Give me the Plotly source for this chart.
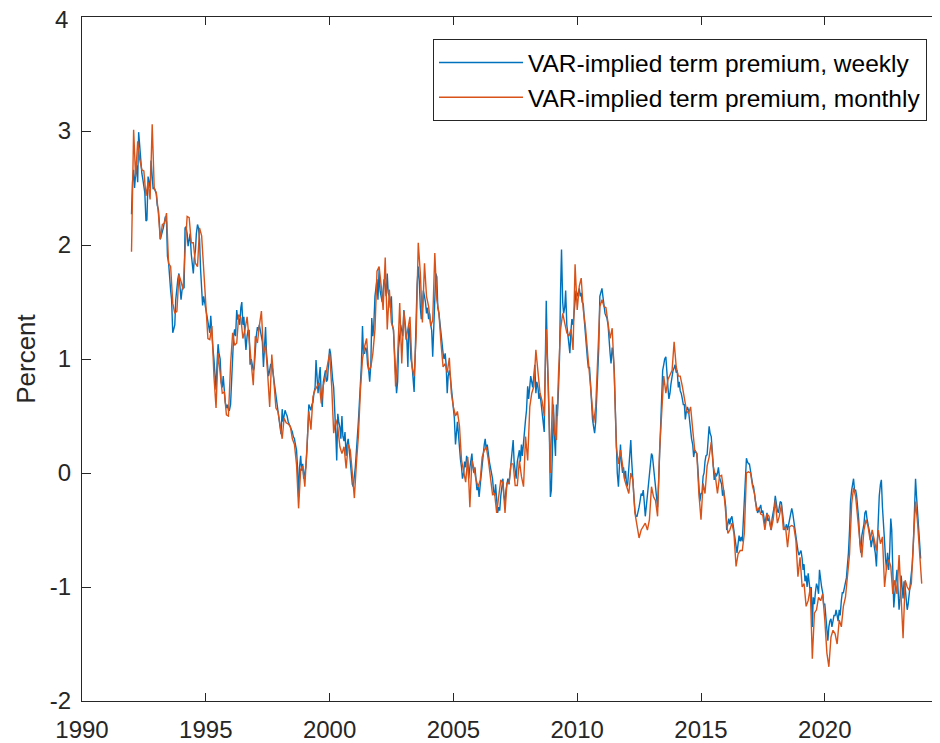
import pandas as pd
import plotly.graph_objects as go

# Monthly VAR-implied term premium (percent), Jan 1992 - Dec 2023, one row per year
monthly_by_year = {
    1992: [1.94, 3.01, 2.60, 2.91, 2.75, 2.66, 2.65, 2.43, 2.55, 2.40, 3.06, 2.50],
    1993: [2.46, 2.28, 2.05, 2.18, 2.19, 2.28, 1.84, 1.81, 1.49, 1.40, 1.42, 1.74],
    1994: [1.68, 1.61, 1.95, 2.25, 2.24, 2.02, 2.02, 1.84, 1.81, 2.15, 2.08, 1.76],
    1995: [1.49, 1.18, 1.17, 1.29, 0.85, 0.57, 1.05, 0.85, 0.70, 0.71, 0.51, 0.50],
    1996: [0.95, 1.23, 1.12, 1.14, 1.39, 1.36, 1.18, 1.26, 1.37, 1.17, 0.93, 0.77],
    1997: [1.20, 1.14, 1.29, 1.42, 1.05, 1.12, 0.88, 0.58, 1.04, 0.80, 0.57, 0.54],
    1998: [0.41, 0.30, 0.48, 0.44, 0.43, 0.41, 0.30, 0.25, 0.07, -0.31, 0.03, 0.06],
    1999: [-0.12, 0.22, 0.54, 0.38, 0.67, 0.73, 0.76, 0.79, 0.61, 0.77, 0.85, 0.96],
    2000: [1.05, 0.76, 0.35, 0.47, 0.40, 0.23, 0.17, 0.23, 0.04, 0.25, 0.20, 0.00],
    2001: [-0.22, 0.09, 0.32, 0.73, 1.00, 1.11, 1.18, 0.90, 0.93, 1.05, 1.26, 1.77],
    2002: [1.81, 1.64, 1.43, 1.89, 1.26, 1.61, 1.32, 1.26, 0.76, 1.02, 1.49, 0.96],
    2003: [1.42, 1.17, 1.26, 1.37, 0.93, 0.85, 1.20, 2.02, 1.75, 1.32, 1.84, 1.55],
    2004: [1.46, 1.29, 1.34, 1.93, 1.52, 1.40, 1.14, 0.93, 0.96, 0.88, 1.01, 0.70],
    2005: [0.58, 0.50, 0.54, 0.41, 0.11, 0.00, -0.08, 0.14, -0.30, 0.11, 0.04, -0.06],
    2006: [-0.12, -0.06, 0.14, 0.20, 0.23, 0.11, -0.03, -0.19, -0.18, -0.35, -0.20, -0.06],
    2007: [-0.09, -0.35, -0.09, -0.09, 0.08, 0.08, -0.11, -0.11, 0.11, -0.03, -0.12, 0.32],
    2008: [0.11, 0.58, 0.70, 0.76, 1.08, 0.88, 0.70, 0.63, 0.50, 1.26, 0.76, 0.00],
    2009: [0.67, 0.35, 0.29, 0.88, 1.26, 1.40, 1.32, 1.23, 1.20, 1.26, 1.08, 1.83],
    2010: [1.43, 1.64, 1.71, 1.43, 1.29, 1.08, 0.88, 0.64, 0.44, 0.58, 1.05, 1.46],
    2011: [1.52, 1.46, 1.45, 1.29, 1.18, 1.27, 0.88, 0.23, 0.08, 0.20, 0.06, -0.06],
    2012: [-0.12, -0.18, 0.00, -0.06, -0.35, -0.47, -0.57, -0.50, -0.47, -0.44, -0.50, -0.41],
    2013: [-0.12, -0.21, -0.24, -0.38, 0.20, 0.58, 0.85, 0.70, 0.82, 0.86, 0.90, 1.15],
    2014: [0.93, 0.85, 0.85, 0.76, 0.64, 0.55, 0.52, 0.58, 0.38, 0.20, 0.17, -0.18],
    2015: [-0.41, -0.09, -0.18, 0.06, 0.14, 0.27, 0.06, -0.03, -0.18, -0.03, -0.02, -0.15],
    2016: [-0.35, -0.53, -0.50, -0.44, -0.53, -0.82, -0.71, -0.68, -0.68, -0.53, 0.00, 0.01],
    2017: [0.00, -0.12, -0.18, -0.33, -0.31, -0.36, -0.37, -0.50, -0.36, -0.38, -0.50, -0.41],
    2018: [-0.24, -0.44, -0.38, -0.28, -0.50, -0.47, -0.65, -0.47, -0.46, -0.47, -0.59, -0.91],
    2019: [-0.74, -1.00, -0.97, -1.17, -1.12, -1.01, -1.63, -1.23, -1.20, -1.09, -1.12, -1.06],
    2020: [-1.29, -1.58, -1.70, -1.44, -1.38, -1.41, -1.50, -1.29, -1.35, -1.17, -1.09, -0.91],
    2021: [-0.71, -0.27, -0.13, -0.21, -0.41, -0.59, -0.74, -0.50, -0.41, -0.47, -0.59, -0.50],
    2022: [-0.59, -0.68, -0.50, -0.62, -0.56, -1.00, -0.82, -0.76, -0.82, -1.06, -0.94, -1.06],
    2023: [-0.72, -1.17, -1.45, -0.94, -1.00, -1.03, -0.97, -0.59, -0.25, -0.44, -0.68, -0.97],
}

# Higher-frequency (weekly) series, read at roughly two observations per month
weekly_by_year = {
    1992: [2.27, 2.55, 2.66, 2.50, 2.62, 2.70, 2.55, 2.99, 2.87, 2.75, 2.63, 2.58, 2.50, 2.46, 2.21, 2.22, 2.60, 2.55, 2.50, 2.74, 2.60, 2.49, 2.50, 2.48],
    1993: [2.45, 2.35, 2.31, 2.20, 2.05, 2.08, 2.11, 2.15, 2.20, 2.25, 2.20, 1.90, 1.85, 1.70, 1.60, 1.52, 1.23, 1.26, 1.30, 1.52, 1.64, 1.70, 1.75, 1.60],
    1994: [1.52, 1.60, 1.65, 1.62, 2.15, 2.16, 2.10, 1.99, 2.05, 2.10, 1.92, 1.80, 1.75, 1.88, 1.95, 2.10, 2.18, 2.15, 2.05, 1.80, 1.65, 1.47, 1.55, 1.50],
    1995: [1.45, 1.40, 1.35, 1.26, 1.23, 1.38, 1.20, 1.10, 1.00, 0.85, 0.73, 0.95, 1.13, 1.05, 1.00, 0.80, 0.75, 0.85, 0.70, 0.62, 0.57, 0.60, 0.55, 0.55],
    1996: [0.60, 0.80, 1.00, 1.20, 1.26, 1.20, 1.43, 1.35, 1.35, 1.30, 1.45, 1.50, 1.30, 1.37, 1.20, 1.08, 1.20, 1.25, 1.25, 0.95, 1.00, 0.95, 0.90, 0.92],
    1997: [1.14, 1.20, 1.28, 1.25, 1.30, 1.25, 1.20, 1.15, 0.93, 1.10, 1.28, 1.05, 0.96, 0.85, 0.90, 0.95, 0.96, 0.90, 0.80, 0.75, 0.70, 0.61, 0.58, 0.52],
    1998: [0.40, 0.34, 0.56, 0.45, 0.50, 0.55, 0.52, 0.50, 0.45, 0.43, 0.40, 0.38, 0.36, 0.32, 0.30, 0.25, 0.20, 0.05, -0.21, 0.05, 0.15, 0.02, 0.08, -0.05],
    1999: [0.02, 0.05, 0.20, 0.40, 0.60, 0.58, 0.55, 0.60, 0.62, 0.70, 0.75, 0.99, 0.82, 0.70, 0.85, 0.93, 0.67, 0.58, 0.80, 0.85, 0.90, 0.80, 0.82, 0.95],
    2000: [1.09, 1.05, 0.90, 0.82, 0.75, 0.60, 0.35, 0.11, 0.52, 0.45, 0.40, 0.30, 0.50, 0.32, 0.28, 0.36, 0.15, 0.25, 0.30, 0.22, 0.10, 0.00, -0.10, -0.12],
    2001: [-0.05, 0.05, 0.20, 0.30, 0.45, 0.60, 0.80, 0.95, 1.29, 1.05, 1.05, 1.10, 1.08, 0.95, 0.90, 0.80, 0.95, 1.36, 1.20, 1.30, 1.55, 1.65, 1.70, 1.52],
    2002: [1.78, 1.60, 1.52, 1.50, 1.60, 1.70, 1.65, 1.55, 1.75, 1.58, 1.55, 1.45, 1.55, 1.30, 1.25, 1.10, 0.90, 0.70, 0.80, 1.10, 1.20, 1.30, 1.25, 1.20],
    2003: [1.43, 1.35, 1.20, 1.15, 0.93, 1.30, 1.20, 1.00, 0.95, 0.80, 0.71, 1.00, 1.40, 1.65, 1.81, 1.70, 1.45, 1.35, 1.45, 1.60, 1.55, 1.50, 1.40, 1.45],
    2004: [1.35, 1.40, 1.30, 1.25, 1.02, 1.30, 1.60, 1.75, 1.72, 1.45, 1.40, 1.30, 1.25, 1.15, 1.05, 1.00, 1.05, 0.95, 0.70, 0.85, 0.90, 0.85, 0.75, 0.65],
    2005: [0.55, 0.48, 0.25, 0.40, 0.45, 0.35, 0.20, 0.12, 0.05, -0.05, 0.00, 0.10, 0.05, 0.15, 0.10, -0.05, 0.05, 0.10, 0.17, 0.05, 0.00, 0.05, -0.10, -0.15],
    2006: [-0.12, -0.21, -0.10, 0.00, 0.10, 0.20, 0.25, 0.30, 0.20, 0.25, 0.15, 0.10, 0.05, 0.00, -0.05, -0.15, -0.20, -0.10, -0.25, -0.35, -0.30, -0.33, -0.20, -0.10],
    2007: [-0.05, -0.20, -0.25, -0.15, -0.10, -0.05, -0.10, 0.00, 0.10, 0.15, 0.29, 0.10, 0.00, -0.05, 0.10, 0.15, 0.20, 0.10, 0.25, 0.15, 0.30, 0.40, 0.47, 0.55],
    2008: [0.76, 0.65, 0.75, 0.85, 0.80, 0.75, 0.85, 0.95, 0.70, 0.80, 0.75, 0.65, 0.70, 0.63, 0.55, 0.45, 0.36, 0.90, 1.51, 1.10, 0.80, 0.40, -0.21, -0.15],
    2009: [0.20, 0.60, 0.30, 0.15, 0.60, 0.50, 0.75, 1.00, 1.60, 1.96, 1.50, 1.40, 1.45, 1.60, 1.30, 1.20, 1.10, 1.05, 1.25, 1.35, 1.30, 1.40, 1.55, 1.60],
    2010: [1.55, 1.58, 1.62, 1.55, 1.58, 1.50, 1.48, 1.35, 1.20, 1.15, 1.00, 0.92, 0.93, 0.80, 0.60, 0.47, 0.40, 0.35, 0.45, 0.67, 0.80, 1.10, 1.55, 1.58],
    2011: [1.62, 1.55, 1.45, 1.40, 1.38, 1.36, 1.30, 1.15, 1.05, 0.96, 1.10, 1.05, 0.90, 0.60, 0.25, 0.00, -0.12, 0.10, 0.25, 0.10, 0.00, 0.05, -0.05, 0.02],
    2012: [-0.12, -0.10, 0.05, 0.20, 0.29, 0.10, -0.12, -0.20, -0.33, -0.38, -0.38, -0.35, -0.30, -0.25, -0.18, -0.20, -0.15, -0.25, -0.38, -0.30, -0.20, -0.12, -0.05, 0.05],
    2013: [0.17, 0.15, 0.05, 0.00, -0.10, -0.22, -0.30, -0.10, 0.20, 0.50, 0.80, 0.90, 0.95, 1.00, 1.02, 0.85, 0.75, 0.65, 0.70, 0.78, 0.85, 0.90, 0.92, 0.95],
    2014: [0.88, 0.90, 0.75, 0.80, 0.72, 0.70, 0.65, 0.60, 0.60, 0.47, 0.55, 0.58, 0.55, 0.45, 0.35, 0.30, 0.25, 0.14, 0.20, 0.18, 0.17, 0.05, -0.10, -0.25],
    2015: [-0.18, -0.18, -0.03, 0.00, 0.10, 0.15, 0.16, 0.25, 0.41, 0.35, 0.32, 0.20, 0.05, -0.06, 0.00, -0.03, 0.00, 0.05, -0.04, -0.06, -0.10, -0.20, -0.15, -0.21],
    2016: [-0.30, -0.50, -0.42, -0.40, -0.45, -0.40, -0.38, -0.45, -0.50, -0.59, -0.65, -0.70, -0.62, -0.55, -0.60, -0.56, -0.60, -0.42, -0.20, 0.05, 0.13, 0.10, 0.08, 0.08],
    2017: [0.00, -0.05, -0.10, -0.12, -0.20, -0.25, -0.30, -0.35, -0.33, -0.30, -0.28, -0.35, -0.33, -0.38, -0.45, -0.40, -0.35, -0.42, -0.40, -0.45, -0.50, -0.40, -0.35, -0.30],
    2018: [-0.20, -0.28, -0.33, -0.35, -0.30, -0.25, -0.26, -0.35, -0.45, -0.50, -0.48, -0.45, -0.50, -0.45, -0.40, -0.35, -0.31, -0.35, -0.42, -0.50, -0.59, -0.65, -0.68, -0.72],
    2019: [-0.70, -0.68, -0.75, -0.85, -0.80, -0.95, -0.90, -1.00, -0.88, -0.97, -1.05, -1.00, -1.35, -1.09, -1.15, -1.05, -0.97, -1.00, -1.06, -0.85, -0.95, -1.00, -1.05, -1.15],
    2020: [-1.15, -1.25, -1.40, -1.47, -1.35, -1.30, -1.28, -1.35, -1.30, -1.25, -1.25, -1.20, -1.25, -1.30, -1.20, -1.25, -1.12, -1.05, -1.05, -1.00, -0.95, -0.92, -0.80, -0.70],
    2021: [-0.50, -0.25, -0.15, -0.10, -0.05, -0.15, -0.15, -0.20, -0.30, -0.40, -0.60, -0.70, -0.55, -0.50, -0.45, -0.35, -0.33, -0.40, -0.45, -0.50, -0.55, -0.65, -0.60, -0.55],
    2022: [-0.65, -0.70, -0.82, -0.55, -0.30, -0.20, -0.10, -0.06, -0.30, -0.40, -0.60, -0.75, -0.85, -0.70, -0.85, -0.70, -0.40, -0.50, -0.90, -1.18, -1.05, -0.95, -0.85, -1.00],
    2023: [-1.20, -1.10, -0.90, -1.00, -1.10, -0.95, -1.00, -1.10, -1.20, -1.15, -1.05, -1.00, -0.90, -0.80, -0.60, -0.40, -0.05, -0.20, -0.35, -0.55, -0.70, -0.75],
}

tick_years = [1990, 1995, 2000, 2005, 2010, 2015, 2020]
y_ticks = [-2, -1, 0, 1, 2, 3, 4]
names = ["VAR-implied term premium, weekly", "VAR-implied term premium, monthly"]


def decimal_year(dates):
    return [d.year + (d - pd.Timestamp(d.year, 1, 1)).days / 365.25 for d in dates]


monthly_vals = [v for y in sorted(monthly_by_year) for v in monthly_by_year[y]]
weekly_vals = [v for y in sorted(weekly_by_year) for v in weekly_by_year[y]]
monthly_dates = pd.date_range("1992-01-01", periods=len(monthly_vals), freq="MS")
weekly_dates = pd.date_range("1992-01-01", periods=len(weekly_vals), freq="SMS")

fig = go.Figure()
fig.add_trace(go.Scatter(x=decimal_year(weekly_dates), y=weekly_vals, mode="lines",
                         name=names[0], line=dict(color="#0072BD", width=1.4)))
fig.add_trace(go.Scatter(x=decimal_year(monthly_dates), y=monthly_vals, mode="lines",
                         name=names[1], line=dict(color="#D95319", width=1.4)))

axis_col = "#262626"
font_family = "Liberation Sans, Arial, sans-serif"
# page body has an 8px default margin, so the figure is offset by 8px right/down
W, H = 940, 743
ml, mt, mb, mr = 74, 9, 50, 0
plot_w = W - ml - mr
fig.update_layout(
    width=W, height=H,
    margin=dict(l=ml, r=mr, t=mt, b=mb),
    paper_bgcolor="white", plot_bgcolor="white",
    font=dict(family=font_family, size=24, color=axis_col),
    showlegend=True,
    legend=dict(x=(919 - ml) / plot_w, y=(H - mb - 31) / (H - mb - mt),
                xanchor="right", yanchor="top",
                bgcolor="white", bordercolor=axis_col, borderwidth=1,
                font=dict(size=24.5, color="black"), itemwidth=84,
                tracegroupgap=0),
    xaxis=dict(range=[1990, 1990 + plot_w / 24.76], tickvals=tick_years,
               ticktext=[str(t) for t in tick_years], automargin=False,
               showgrid=False, zeroline=False, showline=True, linecolor=axis_col,
               linewidth=1, mirror="ticks", ticks="inside", ticklen=8,
               tickcolor=axis_col, ticklabelstandoff=7),
    yaxis=dict(range=[-2, 4], tickvals=y_ticks, ticktext=[str(t) for t in y_ticks],
               automargin=False,
               showgrid=False, zeroline=False, showline=True, linecolor=axis_col,
               linewidth=1, mirror="ticks", ticks="inside", ticklen=9, tickcolor=axis_col,
               ticklabelstandoff=5,
               title=dict(text="Percent", font=dict(size=26), standoff=6)),
)
# the top tick label would be dropped by Plotly at the figure edge: draw it as text
fig.add_annotation(x=0, y=y_ticks[-1], xref="paper", yref="y", text=str(y_ticks[-1]),
                   showarrow=False, xanchor="right", yanchor="middle",
                   xshift=-12, yshift=-2, height=20, valign="middle",
                   font=dict(family=font_family, size=24, color=axis_col))

fig.write_html("out.html")
